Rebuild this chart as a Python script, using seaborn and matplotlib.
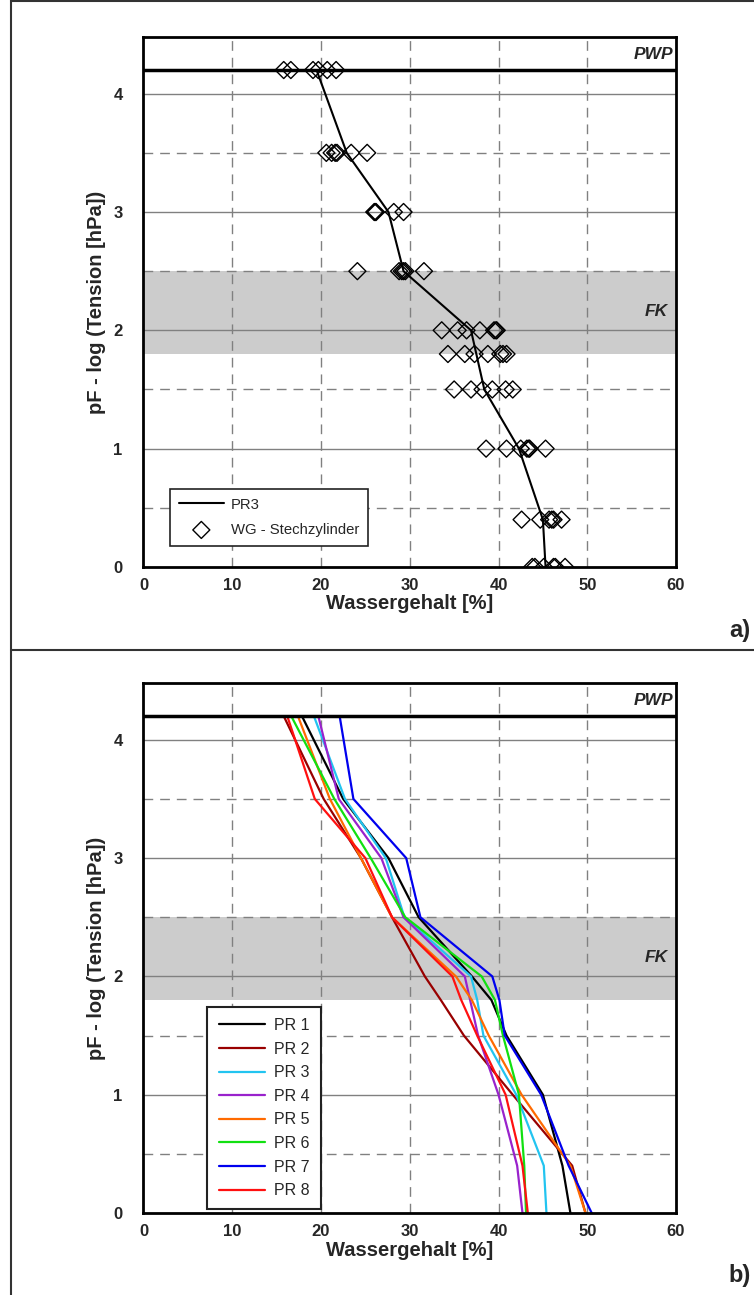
import matplotlib
matplotlib.use("Agg")
import matplotlib.pyplot as plt
from matplotlib.lines import Line2D
import seaborn as sns
import pandas as pd

# --- data ---
pf_levels = [4.2, 3.5, 3.0, 2.5, 2.0, 1.8, 1.5, 1.0, 0.4, 0.0]

# panel a: PR3 curve and WG - Stechzylinder samples
pr3_curve = [19.5, 22.9, 27.6, 29.3, 36.9, 37.5, 38.4, 42.3, 45.0, 45.3]

wg_pf = ([4.2] * 6 + [3.5] * 6 + [3.0] * 5 + [2.5] * 6 + [2.0] * 7
         + [1.8] * 7 + [1.5] * 6 + [1.0] * 7 + [0.4] * 6 + [0.0] * 6)
wg_theta = [15.8, 16.6, 19.1, 19.7, 20.7, 21.7,
            20.6, 21.2, 21.6, 21.8, 23.4, 25.2,
            26.0, 26.1, 26.2, 28.2, 29.3,
            24.1, 28.8, 29.1, 29.3, 29.5, 31.6,
            33.6, 35.4, 36.4, 37.9, 39.5, 39.7, 39.8,
            34.3, 36.2, 37.3, 38.8, 40.2, 40.5, 40.9,
            35.0, 36.9, 38.2, 39.3, 40.8, 41.6,
            38.6, 40.9, 42.5, 43.2, 43.4, 43.5, 45.3,
            42.6, 44.7, 45.7, 46.0, 46.2, 47.1,
            43.8, 44.1, 45.1, 46.2, 46.4, 47.5]

# panel b: profiles PR 1 .. PR 8
profile_names = ["PR 1", "PR 2", "PR 3", "PR 4", "PR 5", "PR 6", "PR 7", "PR 8"]
profile_values = [
    [17.85, 22.5, 27.6, 31.0, 37.0, 39.2, 40.9, 45.0, 47.2, 48.1],
    [15.8, 20.3, 24.5, 28.0, 31.7, 33.5, 36.1, 41.6, 48.3, 49.8],
    [19.2, 22.7, 27.3, 29.4, 36.9, 37.6, 38.3, 42.0, 45.1, 45.4],
    [19.7, 22.0, 26.8, 29.3, 36.2, 36.8, 37.7, 40.0, 42.1, 42.7],
    [17.4, 21.0, 24.5, 28.0, 35.2, 37.0, 38.9, 42.6, 48.1, 49.8],
    [16.65, 21.5, 25.6, 29.5, 38.1, 39.6, 40.5, 42.3, 42.9, 43.1],
    [22.1, 23.65, 29.6, 31.2, 39.3, 40.1, 40.7, 44.8, 47.9, 50.5],
    [16.2, 19.3, 25.0, 28.0, 34.8, 35.8, 37.6, 40.8, 42.7, 43.3],
]
profile_colors = ["#000000", "#990000", "#22C4F0", "#9922CC",
                  "#FF6A00", "#11E011", "#0000EE", "#FF1010"]

x_ticks = [0, 10, 20, 30, 40, 50, 60]
y_ticks = [0, 1, 2, 3, 4]

sns.set_style("white")
plt.rcParams['font.family'] = ['Liberation Sans', 'DejaVu Sans']

fig = plt.figure(figsize=(7.54, 12.95), dpi=100)
ax1 = fig.add_axes([0.1903, 0.5622, 0.7063, 0.4093])
ax2 = fig.add_axes([0.1903, 0.0633, 0.7063, 0.4093])


def style_axes(ax):
    ax.set_xlim(0, 60)
    ax.set_ylim(0, 4.48)
    # FK band
    ax.axhspan(1.8, 2.5, color="#cccccc", lw=0, zorder=0)
    # grid
    for v in [10, 20, 30, 40, 50]:
        ax.axvline(v, color="#808080", lw=1, ls=(0, (7, 5)), zorder=1)
    for h in [1, 2, 3, 4]:
        ax.axhline(h, color="#808080", lw=1, zorder=1)
    for h in [0.5, 1.5, 2.5, 3.5]:
        ax.axhline(h, color="#808080", lw=1, ls=(0, (7, 5)), zorder=1)
    # PWP line
    ax.axhline(4.2, color="black", lw=2.5, zorder=4)
    ax.text(59.7, 4.33, "PWP", ha="right", va="center", fontsize=12.5,
            fontweight="bold", fontstyle="italic", zorder=5)
    ax.text(59.1, 2.16, "FK", ha="right", va="center", fontsize=12.5,
            fontweight="bold", fontstyle="italic", zorder=5)
    for s in ax.spines.values():
        s.set_color("black")
        s.set_linewidth(2)
        s.set_zorder(6)
    ax.set_xticks(x_ticks)
    ax.set_yticks(y_ticks)
    ax.tick_params(axis="x", direction="out", length=5, width=1,
                   color="#999999", labelsize=12, pad=3)
    ax.tick_params(axis="y", direction="out", length=7, width=1,
                   color="#999999", labelsize=12, pad=8)
    for lab in ax.get_xticklabels() + ax.get_yticklabels():
        lab.set_fontweight("bold")
    ax.set_xlabel("Wassergehalt [%]", fontsize=14.5, fontweight="bold", labelpad=1)
    ax.set_ylabel("pF - log (Tension [hPa])", fontsize=14.5, fontweight="bold",
                  labelpad=5)


# ---- panel a ----
style_axes(ax1)
sns.lineplot(x=pr3_curve, y=pf_levels, sort=False, estimator=None,
             color="black", lw=1.5, ax=ax1, label="PR3", zorder=3)
sns.scatterplot(x=wg_theta, y=wg_pf, marker="D", s=75, facecolor="none",
                edgecolor="black", linewidth=1, ax=ax1,
                label="WG - Stechzylinder", zorder=3)
leg1 = ax1.legend(loc="lower left", bbox_to_anchor=(0.05, 0.04),
                  borderaxespad=0, fontsize=10.7,
                  frameon=True, fancybox=False, edgecolor="#222222",
                  framealpha=1, handlelength=3.0, borderpad=0.6,
                  labelspacing=0.75, handletextpad=0.5)
leg1.get_frame().set_linewidth(1.2)
leg1.set_zorder(7)

# ---- panel b ----
style_axes(ax2)
rows = []
for name, vals in zip(profile_names, profile_values):
    for t, p in zip(vals, pf_levels):
        rows.append({"profil": name, "theta": t, "pf": p})
df_b = pd.DataFrame(rows)
sns.lineplot(data=df_b, x="theta", y="pf", hue="profil", sort=False,
             estimator=None, palette=dict(zip(profile_names, profile_colors)),
             lw=1.6, ax=ax2, zorder=3)
leg2 = ax2.legend(loc="lower left", bbox_to_anchor=(0.12, 0.0067),
                  borderaxespad=0, fontsize=11.5,
                  frameon=True, fancybox=False, edgecolor="#222222",
                  framealpha=1, handlelength=2.9, borderpad=0.7,
                  labelspacing=0.54, handletextpad=0.6, title=None)
leg2.get_frame().set_linewidth(1.5)
leg2.set_zorder(7)

# panel labels
fig.text(0.995, 0.513, "a)", ha="right", va="center", fontsize=17, fontweight="bold")
fig.text(0.995, 0.015, "b)", ha="right", va="center", fontsize=17, fontweight="bold")

# outer frame and divider
frame_kw = dict(color="#333333", lw=1.5, transform=fig.transFigure)
fig.add_artist(Line2D([0.014, 0.014], [0.0, 1.0], **frame_kw))
fig.add_artist(Line2D([0.014, 1.0], [0.999, 0.999], **frame_kw))
fig.add_artist(Line2D([0.014, 1.0], [0.498, 0.498], **frame_kw))

fig.savefig("out.png", dpi=100)
